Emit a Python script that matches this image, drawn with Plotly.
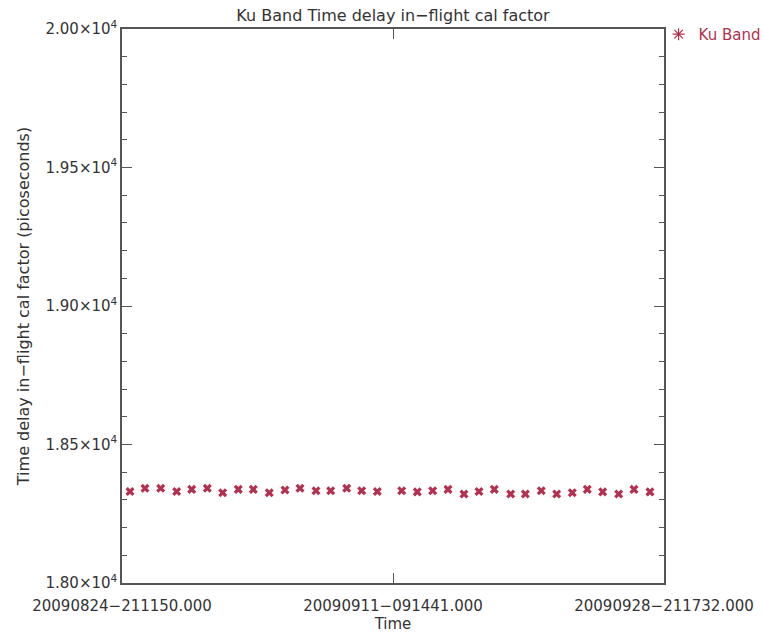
import plotly.graph_objects as go

# ---- data ----
times = [
    "2009-08-25 09:36", "2009-08-26 08:50", "2009-08-27 09:10", "2009-08-28 09:59",
    "2009-08-29 09:14", "2009-08-30 09:25", "2009-08-31 09:16", "2009-09-01 09:27",
    "2009-09-02 08:43", "2009-09-03 09:30", "2009-09-04 09:50", "2009-09-05 09:06",
    "2009-09-06 09:53", "2009-09-07 08:40", "2009-09-08 09:29", "2009-09-09 08:43",
    "2009-09-10 08:55",
    "2009-09-11 22:44", "2009-09-12 22:54", "2009-09-13 22:47", "2009-09-14 22:30",
    "2009-09-15 23:17", "2009-09-16 22:32", "2009-09-17 22:15", "2009-09-18 23:40",
    "2009-09-19 22:18", "2009-09-20 23:06", "2009-09-21 22:58", "2009-09-22 23:10",
    "2009-09-23 22:24", "2009-09-24 22:17", "2009-09-25 23:04", "2009-09-26 22:47",
    "2009-09-27 23:34",
]
ku_band = [
    18330, 18342, 18342, 18330, 18338, 18342, 18326, 18338, 18338, 18326,
    18336, 18342, 18333, 18333, 18342, 18333, 18330,
    18333, 18329, 18333, 18338, 18321, 18330, 18338, 18321, 18321, 18333,
    18321, 18326, 18338, 18329, 18321, 18338, 18329,
]
x_tick_vals = ["2009-08-24 21:11:50", "2009-09-11 09:14:41", "2009-09-28 21:17:32"]
x_tick_text = ["20090824−211150.000", "20090911−091441.000", "20090928−211732.000"]
y_tick_vals = [18000, 18500, 19000, 19500, 20000]
y_tick_text = ["1.80×10<sup>4</sup>", "1.85×10<sup>4</sup>", "1.90×10<sup>4</sup>",
               "1.95×10<sup>4</sup>", "2.00×10<sup>4</sup>"]

color = "#b3304f"
font_family = "DejaVu Sans, sans-serif"

fig = go.Figure()
fig.add_trace(go.Scatter(
    x=times, y=ku_band, mode="markers", name="Ku Band", showlegend=False,
    marker=dict(symbol="x", size=8, color=color, line=dict(width=0)),
))
fig.add_trace(go.Scatter(
    x=[None], y=[None], mode="markers", name="Ku Band", showlegend=True,
    marker=dict(symbol="asterisk-open", size=10, color=color, line=dict(width=1.2, color=color)),
))

fig.update_layout(
    width=763, height=635,
    margin=dict(l=122, r=99, t=29, b=52, autoexpand=False),
    paper_bgcolor="white", plot_bgcolor="white",
    font=dict(family=font_family, size=15, color="#333"),
    title=dict(text="Ku Band Time delay in−flight cal factor", x=0.5, xref="paper",
               xanchor="center", y=0.976, yanchor="middle",
               font=dict(size=16, color="#333")),
    legend=dict(x=0.99, xanchor="left", y=1.02, yanchor="top", bgcolor="rgba(0,0,0,0)",
                font=dict(size=15, color=color), itemwidth=30,
                tracegroupgap=0),
)
fig.update_xaxes(
    type="date", range=[x_tick_vals[0], x_tick_vals[-1]],
    tickmode="array", tickvals=x_tick_vals, ticktext=x_tick_text,
    ticks="inside", ticklen=10, tickwidth=1.2, tickcolor="#555",
    ticklabelstandoff=8,
    showline=True, linecolor="#555", linewidth=1.5, mirror="ticks",
    showgrid=False, zeroline=False,
    tickfont=dict(size=15, color="#333"),
    title=dict(text="Time", font=dict(size=15, color="#333"), standoff=4),
)
fig.update_yaxes(
    range=[18000, 20000],
    tickmode="array", tickvals=y_tick_vals, ticktext=y_tick_text,
    ticks="inside", ticklen=10, tickwidth=1.2, tickcolor="#555",
    minor=dict(dtick=100, tick0=18000, ticks="inside", ticklen=5, tickcolor="#555", tickwidth=1.2),
    showline=True, linecolor="#555", linewidth=1.5, mirror="ticks",
    showgrid=False, zeroline=False,
    tickfont=dict(size=15, color="#333"),
    title=dict(text="Time delay in−flight cal factor (picoseconds)",
               font=dict(size=16, color="#333"), standoff=12),
)

fig.write_html("out.html")
